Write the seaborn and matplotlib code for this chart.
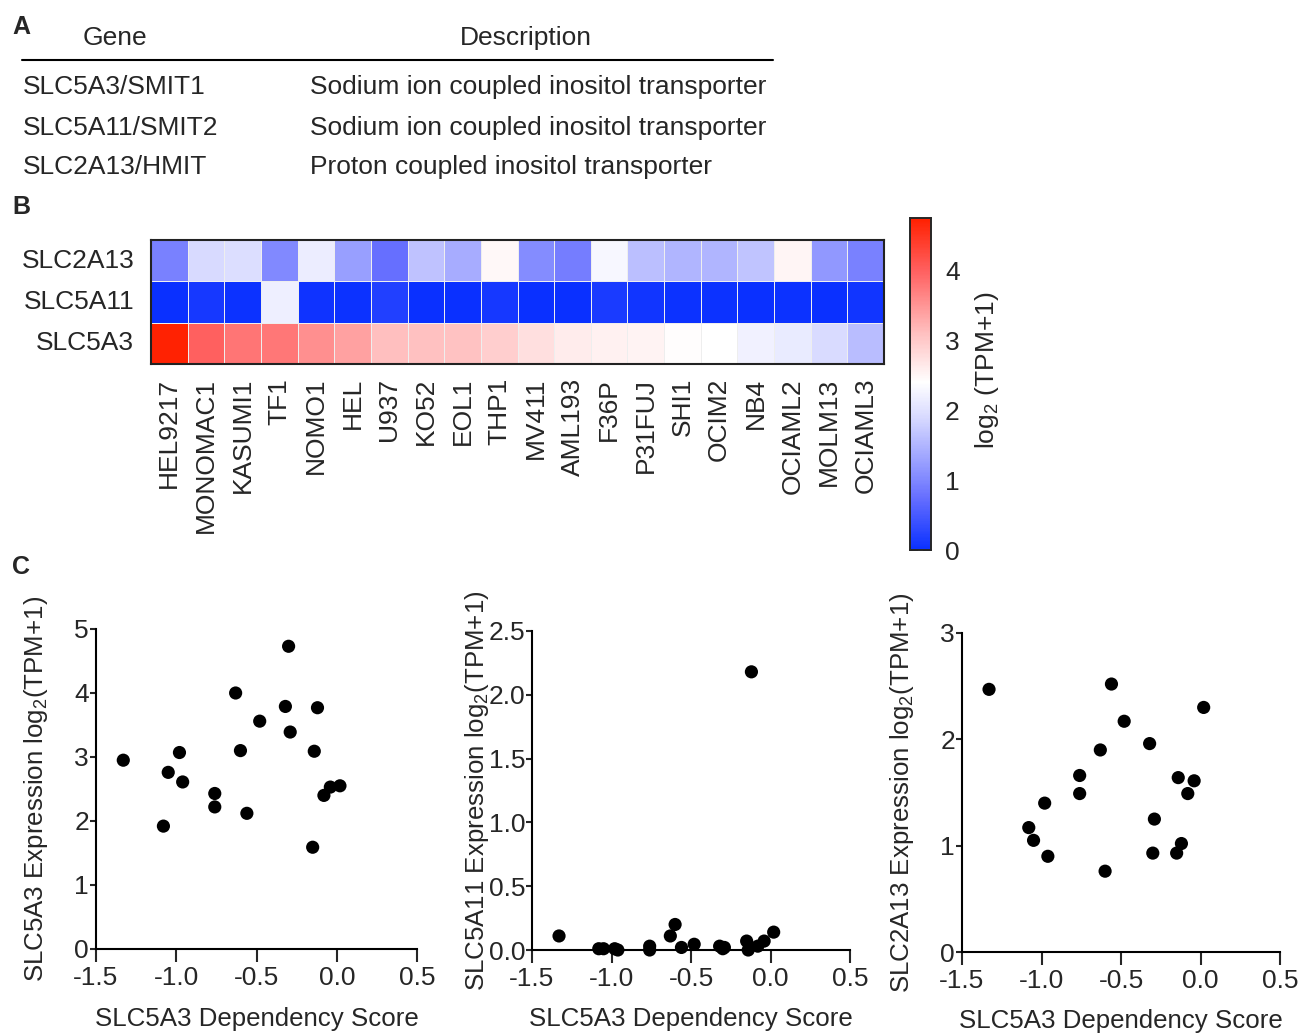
import numpy as np
import pandas as pd
import seaborn as sns
import matplotlib.pyplot as plt
from matplotlib.colors import LinearSegmentedColormap

# cell lines (heatmap column order, sorted by SLC5A3 expression)
cell_lines = ['HEL9217', 'MONOMAC1', 'KASUMI1', 'TF1', 'NOMO1', 'HEL', 'U937', 'KO52',
              'EOL1', 'THP1', 'MV411', 'AML193', 'F36P', 'P31FUJ', 'SHI1', 'OCIM2',
              'NB4', 'OCIAML2', 'MOLM13', 'OCIAML3']

# SLC5A3 dependency score per cell line
dependency = [-0.30, -0.63, -0.32, -0.12, -0.48, -0.29, -0.60, -0.14, -0.98, -1.33,
              -1.05, -0.96, 0.02, -0.04, -0.76, -0.08, -0.76, -0.56, -1.08, -0.15]

# log2(TPM+1) expression
slc5a3 = [4.73, 4.00, 3.79, 3.77, 3.56, 3.39, 3.10, 3.09, 3.07, 2.95,
          2.76, 2.61, 2.55, 2.53, 2.43, 2.40, 2.22, 2.12, 1.92, 1.59]
slc5a11 = [0.01, 0.11, 0.03, 2.18, 0.045, 0.02, 0.20, 0.00, 0.01, 0.11,
           0.01, 0.00, 0.14, 0.07, 0.03, 0.03, 0.00, 0.02, 0.01, 0.07]
slc2a13 = [0.93, 1.90, 1.96, 1.02, 2.17, 1.25, 0.76, 1.64, 1.40, 2.47,
           1.05, 0.90, 2.30, 1.61, 1.49, 1.49, 1.66, 2.52, 1.17, 0.93]

genes = ['SLC2A13', 'SLC5A11', 'SLC5A3']

table_genes = ['SLC5A3/SMIT1', 'SLC5A11/SMIT2', 'SLC2A13/HMIT']
table_desc = ['Sodium ion coupled inositol transporter',
              'Sodium ion coupled inositol transporter',
              'Proton coupled inositol transporter']

sns.set_style('ticks')
plt.rcParams['font.family'] = ['Liberation Sans', 'DejaVu Sans']
plt.rcParams['mathtext.fontset'] = 'custom'
plt.rcParams['mathtext.rm'] = 'Liberation Sans'
plt.rcParams['mathtext.default'] = 'regular'

FS = 19
W, H = 1304, 1036
fig = plt.figure(figsize=(W / 100, H / 100), dpi=100)


def fx(px):
    return px / W


def fy(py):
    return 1 - py / H


### Panel A: table
fig.text(fx(12), fy(27), 'A', fontsize=FS - 1, fontweight='bold', va='center')
fig.text(fx(115), fy(38), 'Gene', fontsize=FS, ha='center', va='center')
fig.text(fx(526), fy(38), 'Description', fontsize=FS, ha='center', va='center')
fig.add_artist(plt.Line2D([fx(22), fx(773)], [fy(60), fy(60)], color='black', lw=1.5))
for i, (g, d) in enumerate(zip(table_genes, table_desc)):
    y = [87, 128, 167][i]
    fig.text(fx(23), fy(y), g, fontsize=FS, va='center')
    fig.text(fx(310), fy(y), d, fontsize=FS, va='center')

### Panel B: heatmap
fig.text(fx(12), fy(207), 'B', fontsize=FS - 1, fontweight='bold', va='center')
heat = pd.DataFrame([slc2a13, slc5a11, slc5a3], index=genes, columns=cell_lines)
vmax = 4.75
cmap = LinearSegmentedColormap.from_list('bwr_custom', [
    (0.0, '#0a30ff'), (0.76 / vmax, '#6870ff'), (1.0 / vmax, '#8088ff'),
    (1.9 / vmax, '#d8daff'), (2.4 / vmax, '#ffffff'), (3.1 / vmax, '#ffc0c0'),
    (4.0 / vmax, '#ff6060'), (1.0, '#ff2000')])

ax_h = fig.add_axes([fx(151), fy(364), fx(884) - fx(151), fy(240) - fy(364)])
ax_cb = fig.add_axes([fx(910), fy(550), fx(931) - fx(910), fy(218) - fy(550)])
sns.heatmap(heat, ax=ax_h, cbar_ax=ax_cb, cmap=cmap, vmin=0, vmax=vmax,
            linewidths=0.5, linecolor='#eeeeee')
ax_h.tick_params(length=0, labelsize=FS)
ax_h.tick_params(axis='x', pad=10)
ax_h.tick_params(axis='y', pad=12)
ax_h.set_xticklabels(cell_lines, rotation=90)
ax_h.set_yticklabels(genes, rotation=0)
ax_h.set_xlabel('')
ax_h.set_ylabel('')
for s in ax_h.spines.values():
    s.set_visible(True)
    s.set_linewidth(1.5)
    s.set_color('#222222')

ax_cb.set_yticks([0, 1, 2, 3, 4])
ax_cb.tick_params(labelsize=FS, direction='in', length=6, width=1.2, color='#222222',
                  pad=10, left=True, right=True, labelleft=False, labelright=True)
for s in ax_cb.spines.values():
    s.set_visible(True)
    s.set_linewidth(1.2)
fig.text(fx(987), fy(370), 'log$_2$ (TPM+1)', fontsize=FS, rotation=90, ha='center', va='center')

### Panel C: scatter plots
fig.text(fx(12), fy(567), 'C', fontsize=FS - 1, fontweight='bold', va='center')
df = pd.DataFrame({'dependency': dependency, 'SLC5A3': slc5a3,
                   'SLC5A11': slc5a11, 'SLC2A13': slc2a13})

panels = [
    ('SLC5A3', [96, 417, 629, 949], 5, [0, 1, 2, 3, 4, 5], '{:.0f}', -0.142),
    ('SLC5A11', [532, 850, 631, 950], 2.5, [0, 0.5, 1.0, 1.5, 2.0, 2.5], '{:.1f}', -0.13),
    ('SLC2A13', [962, 1280, 633, 952], 3, [0, 1, 2, 3], '{:.0f}', -0.146),
]
for gene, (l, r, t, b), ymax, yticks, fmt, ylab_x in panels:
    ax = fig.add_axes([fx(l), fy(b), fx(r) - fx(l), fy(t) - fy(b)])
    sns.scatterplot(data=df, x='dependency', y=gene, ax=ax, color='black', s=90,
                    edgecolor='none', clip_on=False, zorder=5)
    ax.set_xlim(-1.5, 0.5)
    ax.set_ylim(0, ymax)
    ax.set_xticks([-1.5, -1.0, -0.5, 0.0, 0.5])
    ax.set_xticklabels(['-1.5', '-1.0', '-0.5', '0.0', '0.5'])
    ax.set_yticks(yticks)
    ax.set_yticklabels([fmt.format(v) for v in yticks])
    sns.despine(ax=ax)
    for s in ['left', 'bottom']:
        ax.spines[s].set_linewidth(1.5)
        ax.spines[s].set_color('black')
    ax.tick_params(axis='x', length=9, width=1.5, labelsize=FS, pad=3)
    ax.tick_params(axis='y', length=4, width=1.5, labelsize=FS, pad=1)
    ax.set_xlabel('SLC5A3 Dependency Score', fontsize=18.6)
    ax.set_ylabel(gene + ' Expression log$_2$(TPM+1)', fontsize=18.6)
    ax.xaxis.set_label_coords(0.5, -0.18)
    ax.yaxis.set_label_coords(ylab_x, 0.5)

fig.savefig('out.png', dpi=100)
